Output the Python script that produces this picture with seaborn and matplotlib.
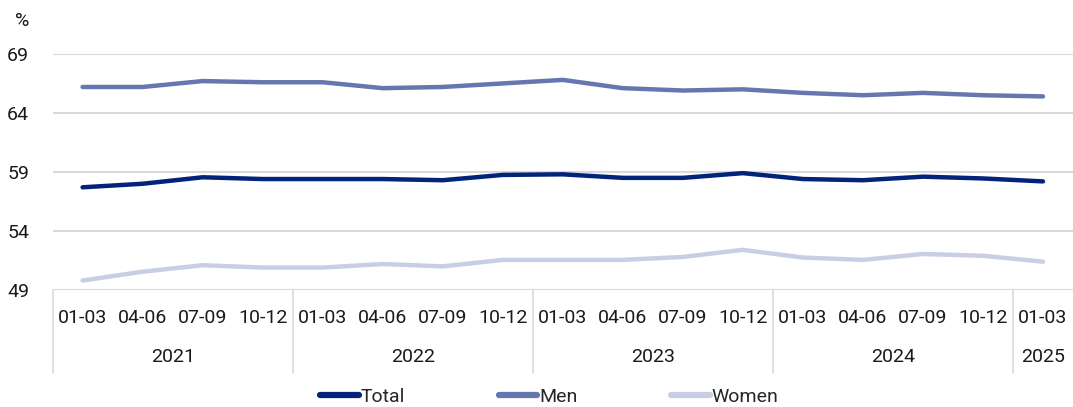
import numpy as np
import pandas as pd
import matplotlib
matplotlib.use("Agg")
import matplotlib.pyplot as plt
import seaborn as sns
from matplotlib.lines import Line2D

# data
quarters = ["01-03", "04-06", "07-09", "10-12"] * 4 + ["01-03"]
years = ["2021", "2022", "2023", "2024", "2025"]
year_sizes = [4, 4, 4, 4, 1]
total = [57.7, 58.0, 58.55, 58.4, 58.4, 58.4, 58.3, 58.75, 58.8,
         58.5, 58.5, 58.9, 58.4, 58.3, 58.6, 58.45, 58.2]
men = [66.2, 66.2, 66.7, 66.6, 66.6, 66.1, 66.2, 66.5, 66.8,
       66.1, 65.9, 66.0, 65.7, 65.5, 65.7, 65.5, 65.4]
women = [49.8, 50.55, 51.1, 50.9, 50.9, 51.2, 51.0, 51.55, 51.55,
         51.55, 51.8, 52.4, 51.75, 51.55, 52.05, 51.9, 51.4]
series = ["Total", "Men", "Women"]
colors = ["#02237a", "#6677b0", "#c8cfe5"]

sns.set_style("white")
plt.rcParams["font.family"] = ["Roboto", "DejaVu Sans"]
fs = 14

idx = np.arange(len(total))
df = pd.DataFrame({
    "x": np.tile(idx, 3),
    "value": total + men + women,
    "series": np.repeat(series, len(idx)),
})

fig = plt.figure(figsize=(10.73, 4.07), dpi=100)
ax = fig.add_axes([0.049, 0.2875, 0.951, 0.58])

sns.lineplot(data=df, x="x", y="value", hue="series", palette=colors,
             linewidth=3.2, ax=ax, legend=False, solid_capstyle="round")

ax.set_xlim(-0.5, len(idx) - 0.5)
ax.set_ylim(49, 69)
ax.set_yticks([49, 54, 59, 64, 69])
ax.yaxis.grid(True, color="#d9d9d9", linewidth=1.5)
ax.set_axisbelow(True)
for s in ax.spines.values():
    s.set_visible(False)
ax.tick_params(axis="y", length=0, labelsize=fs, pad=17, colors="#1a1a1a")
ax.set_xticks(idx)
ax.set_xticklabels(quarters)
ax.tick_params(axis="x", length=0, labelsize=fs, pad=14, colors="#1a1a1a")
ax.set_xlabel("")
ax.set_ylabel("")
ax.text(-0.03, 1.14, "%", transform=ax.transAxes, fontsize=fs,
        ha="center", va="center", color="#1a1a1a")

# year groups and separators
trans = ax.get_xaxis_transform()
start = 0
for yr, n in zip(years, year_sizes):
    ax.plot([start - 0.5, start - 0.5], [0, -0.35], transform=trans,
            color="#d9d9d9", linewidth=1.2, clip_on=False)
    ax.text(start + (n - 1) / 2, -0.285, yr, transform=trans, fontsize=fs,
            ha="center", va="center", color="#1a1a1a")
    start += n

handles = [Line2D([], [], color=c, linewidth=4.5) for c in colors]
fig.legend(handles, series, loc="center", bbox_to_anchor=(0.512, 0.025),
           ncol=3, frameon=False, fontsize=fs, handlelength=2.0,
           handletextpad=0.1, columnspacing=4.8)

fig.savefig("out.png", dpi=100)
